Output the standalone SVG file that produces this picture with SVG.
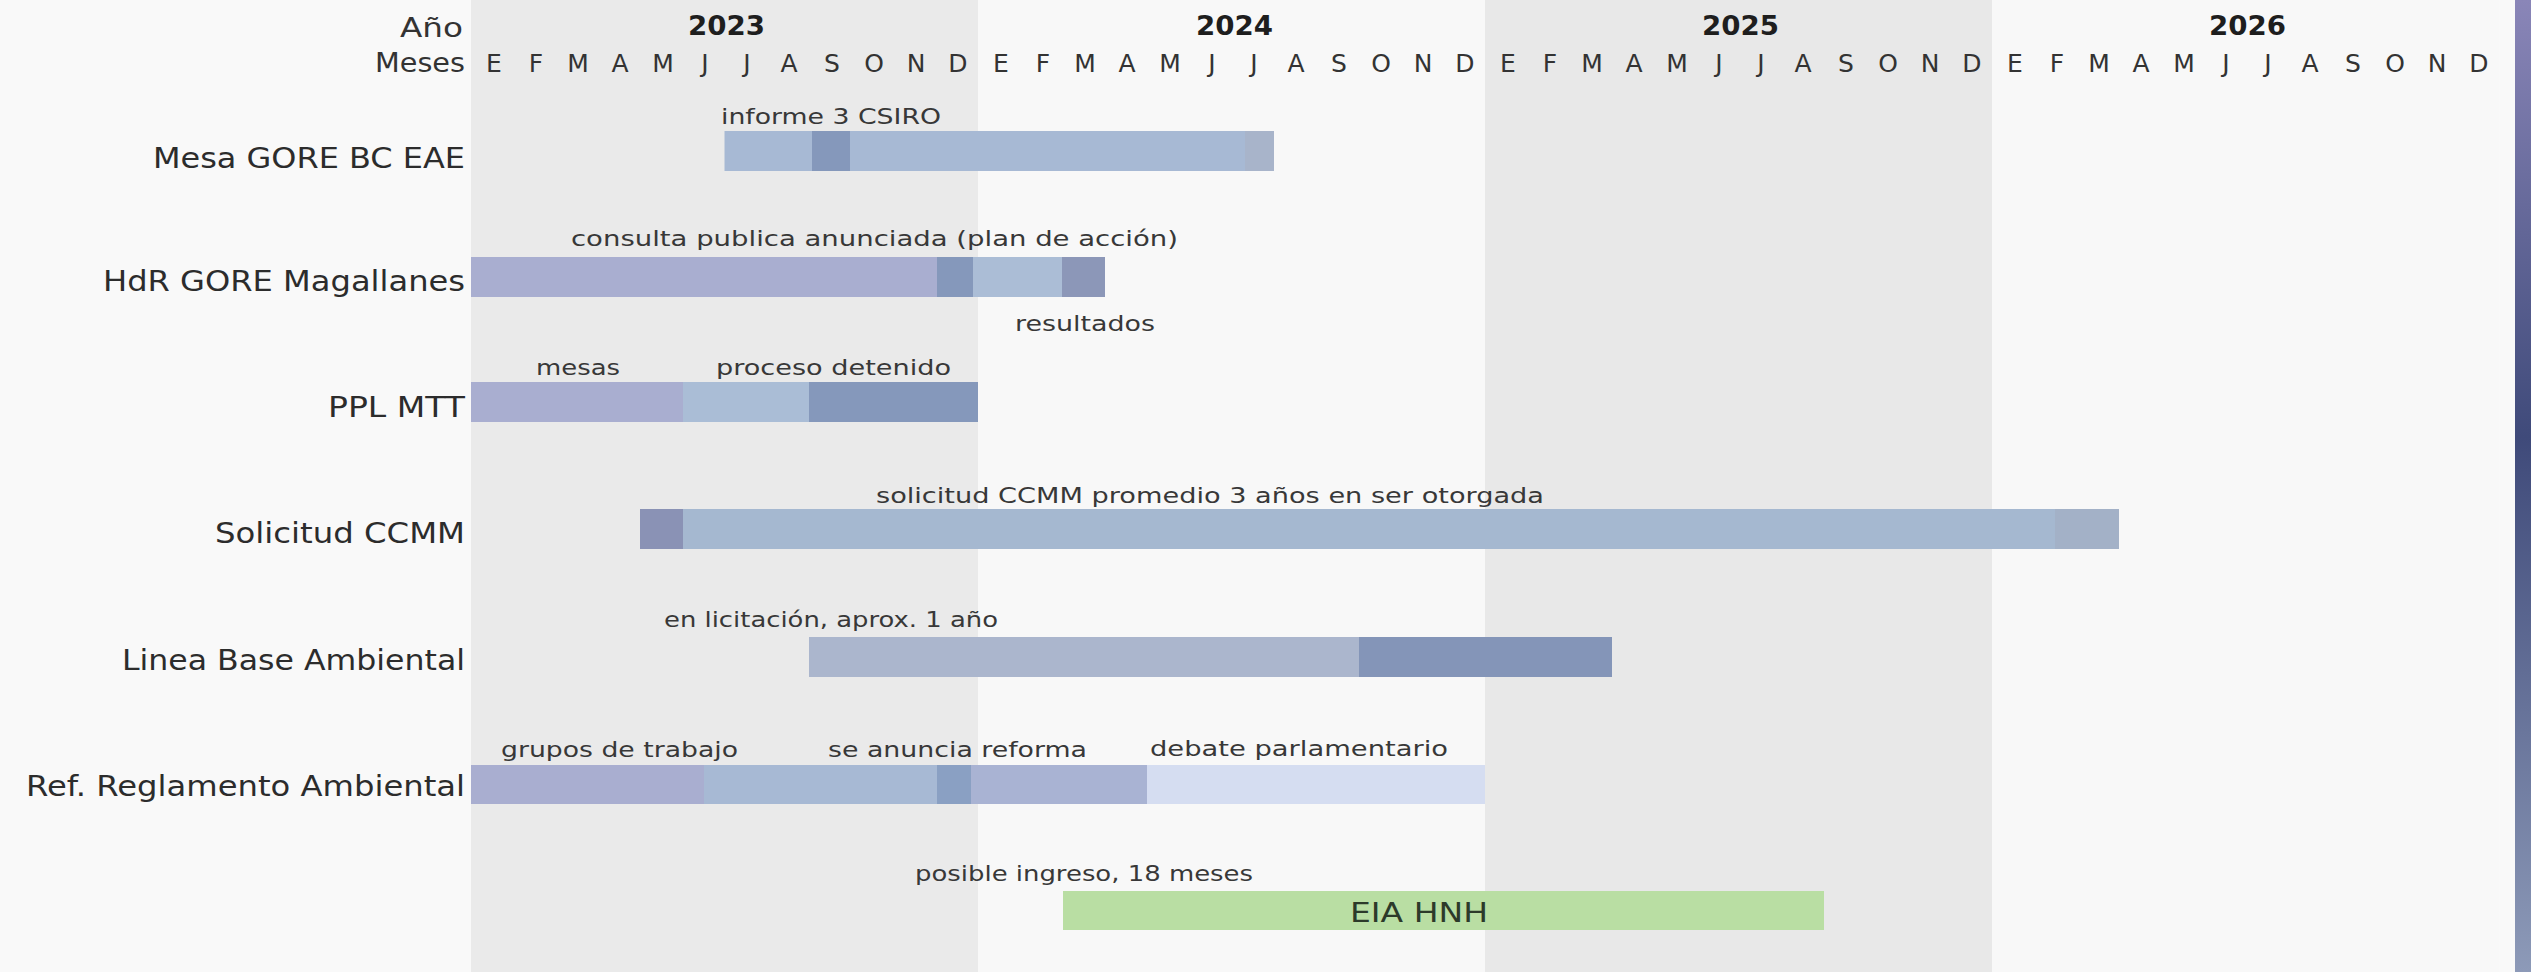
<svg xmlns="http://www.w3.org/2000/svg" width="2531" height="972" viewBox="0 0 2531 972">
<style>
.lbl{font-family:"DejaVu Sans","Open Sans",sans-serif;font-size:28px;fill:#2c2c2c}
.ann{font-family:"DejaVu Sans","Open Sans",sans-serif;font-size:22px;fill:#383838}
.hdr{font-family:"DejaVu Sans","Open Sans",sans-serif;font-size:26px;fill:#333333}
.mon{font-family:"DejaVu Sans","Open Sans",sans-serif;font-size:25px;fill:#333333;text-anchor:middle}
.yr{font-family:"DejaVu Sans","Open Sans",sans-serif;font-size:26px;font-weight:bold;fill:#1e1e1e}
.eia{font-family:"DejaVu Sans","Open Sans",sans-serif;font-size:26px;fill:#2c3a2a}
.lav{fill:#a9aed0}
.blu{fill:#a7b9d4}
.drk{fill:#8598bb}
.lgt{fill:#d5ddf1}
.grn{fill:#b9dea3}
</style>
<defs>
<linearGradient id="edge" x1="0" y1="0" x2="0" y2="1">
<stop offset="0" stop-color="#8a86b8"/>
<stop offset="0.45" stop-color="#3f4a7a"/>
<stop offset="1" stop-color="#8d9ab8"/>
</linearGradient>
</defs>
<g id="background">
<rect x="0" y="0" width="2531" height="972" fill="#f9f9f9"/>
<rect x="471" y="0" width="507" height="972" fill="#eaeaea"/>
<rect x="978" y="0" width="507" height="972" fill="#f8f8f8"/>
<rect x="1485" y="0" width="507" height="972" fill="#e8e8e8"/>
<rect x="1992" y="0" width="507" height="972" fill="#f8f8f8"/>
<rect x="2515" y="0" width="16" height="972" fill="url(#edge)"/>
</g>
<g id="header">
<text class="hdr" x="400" y="37" textLength="63" lengthAdjust="spacingAndGlyphs">Año</text>
<text class="hdr" x="375" y="72" textLength="90" lengthAdjust="spacingAndGlyphs">Meses</text>
<text class="yr" x="688" y="35" textLength="77" lengthAdjust="spacingAndGlyphs">2023</text>
<text class="yr" x="1196" y="35" textLength="77" lengthAdjust="spacingAndGlyphs">2024</text>
<text class="yr" x="1702" y="35" textLength="77" lengthAdjust="spacingAndGlyphs">2025</text>
<text class="yr" x="2209" y="35" textLength="77" lengthAdjust="spacingAndGlyphs">2026</text>
<g id="months">
<text class="mon" x="494" y="72">E</text><text class="mon" x="536" y="72">F</text><text class="mon" x="578" y="72">M</text><text class="mon" x="620" y="72">A</text><text class="mon" x="663" y="72">M</text><text class="mon" x="705" y="72">J</text><text class="mon" x="747" y="72">J</text><text class="mon" x="789" y="72">A</text><text class="mon" x="832" y="72">S</text><text class="mon" x="874" y="72">O</text><text class="mon" x="916" y="72">N</text><text class="mon" x="958" y="72">D</text>
<text class="mon" x="1001" y="72">E</text><text class="mon" x="1043" y="72">F</text><text class="mon" x="1085" y="72">M</text><text class="mon" x="1127" y="72">A</text><text class="mon" x="1170" y="72">M</text><text class="mon" x="1212" y="72">J</text><text class="mon" x="1254" y="72">J</text><text class="mon" x="1296" y="72">A</text><text class="mon" x="1339" y="72">S</text><text class="mon" x="1381" y="72">O</text><text class="mon" x="1423" y="72">N</text><text class="mon" x="1465" y="72">D</text>
<text class="mon" x="1508" y="72">E</text><text class="mon" x="1550" y="72">F</text><text class="mon" x="1592" y="72">M</text><text class="mon" x="1634" y="72">A</text><text class="mon" x="1677" y="72">M</text><text class="mon" x="1719" y="72">J</text><text class="mon" x="1761" y="72">J</text><text class="mon" x="1803" y="72">A</text><text class="mon" x="1846" y="72">S</text><text class="mon" x="1888" y="72">O</text><text class="mon" x="1930" y="72">N</text><text class="mon" x="1972" y="72">D</text>
<text class="mon" x="2015" y="72">E</text><text class="mon" x="2057" y="72">F</text><text class="mon" x="2099" y="72">M</text><text class="mon" x="2141" y="72">A</text><text class="mon" x="2184" y="72">M</text><text class="mon" x="2226" y="72">J</text><text class="mon" x="2268" y="72">J</text><text class="mon" x="2310" y="72">A</text><text class="mon" x="2353" y="72">S</text><text class="mon" x="2395" y="72">O</text><text class="mon" x="2437" y="72">N</text><text class="mon" x="2479" y="72">D</text>
</g>
</g>
<g id="row-mesa-gore">
<text class="lbl" x="153" y="168" textLength="312" lengthAdjust="spacingAndGlyphs">Mesa GORE BC EAE</text>
<rect class="blu" x="724.5" y="131" width="549" height="40"/>
<rect class="drk" x="812" y="131" width="38" height="40"/>
<rect x="1245" y="131" width="29" height="40" fill="#a8b4ca"/>
<text class="ann" x="721" y="124" textLength="220" lengthAdjust="spacingAndGlyphs">informe 3 CSIRO</text>
</g>
<g id="row-hdr-gore">
<text class="lbl" x="103" y="291" textLength="362" lengthAdjust="spacingAndGlyphs">HdR GORE Magallanes</text>
<rect class="lav" x="471" y="257" width="634" height="40"/>
<rect class="drk" x="937" y="257" width="36" height="40"/>
<rect class="blu" x="973" y="257" width="89" height="40" style="fill:#abbdd6"/>
<rect class="drk" x="1062" y="257" width="43" height="40" style="fill:#8c97b8"/>
<text class="ann" x="571" y="246" textLength="607" lengthAdjust="spacingAndGlyphs">consulta publica anunciada (plan de acción)</text>
<text class="ann" x="1015" y="331" textLength="140" lengthAdjust="spacingAndGlyphs">resultados</text>
</g>
<g id="row-ppl-mtt">
<text class="lbl" x="328" y="417" textLength="137" lengthAdjust="spacingAndGlyphs">PPL MTT</text>
<rect class="lav" x="471" y="382" width="212" height="40"/>
<rect class="blu" x="683" y="382" width="126" height="40" style="fill:#aabdd6"/>
<rect class="drk" x="809" y="382" width="169" height="40"/>
<text class="ann" x="536" y="375" textLength="84" lengthAdjust="spacingAndGlyphs">mesas</text>
<text class="ann" x="716" y="375" textLength="235" lengthAdjust="spacingAndGlyphs">proceso detenido</text>
</g>
<g id="row-solicitud-ccmm">
<text class="lbl" x="215" y="543" textLength="250" lengthAdjust="spacingAndGlyphs">Solicitud CCMM</text>
<rect class="blu" x="640" y="509" width="1479" height="40" style="fill:#a5b8d0"/>
<rect class="drk" x="640" y="509" width="43" height="40" style="fill:#8a92b5"/>
<rect x="2055" y="509" width="64" height="40" fill="#a3b1c7"/>
<text class="ann" x="876" y="503" textLength="668" lengthAdjust="spacingAndGlyphs">solicitud CCMM promedio 3 años en ser otorgada</text>
</g>
<g id="row-linea-base">
<text class="lbl" x="122" y="670" textLength="343" lengthAdjust="spacingAndGlyphs">Linea Base Ambiental</text>
<rect class="blu" x="809" y="637" width="550" height="40" style="fill:#abb6cd"/>
<rect class="drk" x="1359" y="637" width="253" height="40" style="fill:#8495b8"/>
<text class="ann" x="664" y="627" textLength="334" lengthAdjust="spacingAndGlyphs">en licitación, aprox. 1 año</text>
</g>
<g id="row-ref-reglamento">
<text class="lbl" x="26" y="796" textLength="439" lengthAdjust="spacingAndGlyphs">Ref. Reglamento Ambiental</text>
<rect class="lav" x="471" y="765" width="233" height="39"/>
<rect class="blu" x="704" y="765" width="233" height="39"/>
<rect class="drk" x="937" y="765" width="34" height="39" style="fill:#8aa0c3"/>
<rect class="lav" x="971" y="765" width="176" height="39" style="fill:#a9b3d3"/>
<rect class="lgt" x="1147" y="765" width="338" height="39"/>
<text class="ann" x="501" y="757" textLength="237" lengthAdjust="spacingAndGlyphs">grupos de trabajo</text>
<text class="ann" x="828" y="757" textLength="259" lengthAdjust="spacingAndGlyphs">se anuncia reforma</text>
<text class="ann" x="1150" y="756" textLength="298" lengthAdjust="spacingAndGlyphs">debate parlamentario</text>
</g>
<g id="row-eia-hnh">
<rect class="grn" x="1063" y="891" width="761" height="39"/>
<text class="eia" x="1350" y="922" textLength="138" lengthAdjust="spacingAndGlyphs">EIA HNH</text>
<text class="ann" x="915" y="881" textLength="338" lengthAdjust="spacingAndGlyphs">posible ingreso, 18 meses</text>
</g>
<g id="connectors"/>
</svg>
